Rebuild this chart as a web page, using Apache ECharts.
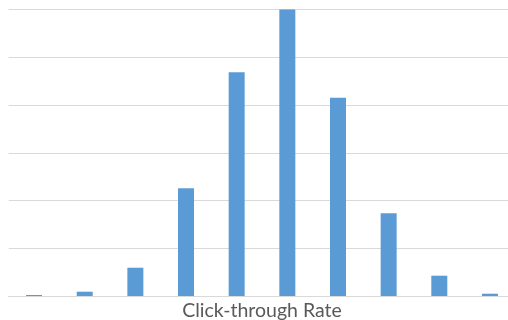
<!DOCTYPE html>
<html>
<head>
<meta charset="utf-8">
<script src="https://cdn.jsdelivr.net/npm/echarts@6/dist/echarts.min.js"></script>
<style>
  html, body { margin: 0; padding: 0; background: #fff; }
  #chart { width: 508px; height: 320px; }
</style>
</head>
<body>
<div id="chart"></div>
<script>
// Histogram of click-through rate buckets
const categories = ['1', '2', '3', '4', '5', '6', '7', '8', '9', '10'];
const counts = [21, 90, 592, 2254, 4688, 6000, 4150, 1731, 425, 48];
const yMax = 6000;
const yStep = 1000;

const chart = echarts.init(document.getElementById('chart'), null, { renderer: 'canvas' });
chart.setOption({
  animation: false,
  backgroundColor: '#ffffff',
  grid: {
    left: 8.7, top: 9.5, width: 506.6, height: 286.5,
    containLabel: false,
    outerBoundsMode: 'none'
  },
  xAxis: {
    type: 'category',
    data: categories,
    name: 'Click-through Rate',
    nameLocation: 'middle',
    nameGap: 5,
    nameTextStyle: { fontFamily: 'Lato', fontSize: 19.5, color: '#595959' },
    axisLine: { show: true, lineStyle: { color: '#d9d9d9', width: 1 } },
    axisTick: { show: false },
    axisLabel: { show: false }
  },
  yAxis: {
    type: 'value',
    min: 0,
    max: yMax,
    interval: yStep,
    axisLine: { show: false },
    axisTick: { show: false },
    axisLabel: { show: false },
    splitLine: { show: true, lineStyle: { color: '#d9d9d9', width: 1 } }
  },
  series: [{
    type: 'bar',
    data: counts,
    barWidth: 16,
    itemStyle: { color: '#5b9bd5' }
  }]
});
</script>
</body>
</html>
